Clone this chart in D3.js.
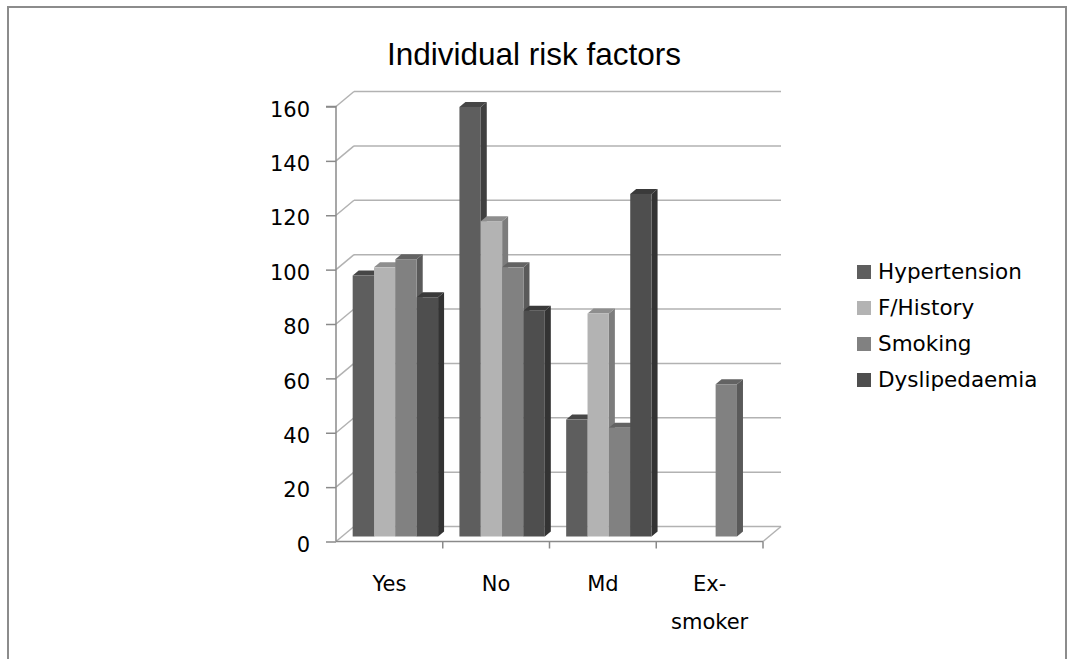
<!DOCTYPE html>
<html>
<head>
<meta charset="utf-8">
<script src="https://cdn.jsdelivr.net/npm/d3@7"></script>
<style>
  html, body { margin: 0; padding: 0; background: #fff; }
  svg { display: block; }
</style>
</head>
<body>
<svg id="chart" width="1069" height="659"></svg>
<script>
// Category and series data
const categories = ["Yes", "No", "Md", "Ex-smoker"];
const seriesNames = ["Hypertension", "F/History", "Smoking", "Dyslipedaemia"];
const hypertension = [96, 158, 43, null];
const fHistory = [99, 116, 82, null];
const smoking = [102, 99, 40, 56];
const dyslipedaemia = [88, 83, 126, null];
const yTicks = [0, 20, 40, 60, 80, 100, 120, 140, 160];

const seriesValues = [hypertension, fHistory, smoking, dyslipedaemia];

// Face shades per series: front, top, side
const frontColors = ["#5e5e5e", "#b3b3b3", "#818181", "#4e4e4e"];
const topColors = ["#464646", "#8e8e8e", "#636363", "#3a3a3a"];
const sideColors = ["#3f3f3f", "#7c7c7c", "#5a5a5a", "#333333"];

const svg = d3.select("#chart");

// Outer chart frame
svg.append("rect")
  .attr("x", 8).attr("y", 7)
  .attr("width", 1058).attr("height", 700)
  .attr("fill", "none")
  .attr("stroke", "#8c8c8c")
  .attr("stroke-width", 2);

// Title
svg.append("text")
  .attr("x", 534).attr("y", 65)
  .attr("text-anchor", "middle")
  .attr("font-family", "Liberation Sans, Arial, sans-serif")
  .attr("font-size", 31.5)
  .attr("fill", "#000")
  .text("Individual risk factors");

// Plot geometry: front plane scales plus oblique depth offsets
const x = d3.scaleBand(categories, [336, 763]).paddingInner(0).paddingOuter(0);
const y = d3.scaleLinear([0, 160], [541.5, 106.5]);
const wall = { dx: 18, dy: -15 };      // back wall offset
const barFront = { dx: 6, dy: -5 };    // front plane of the bars
const barDepth = { dx: 6, dy: -5 };    // thickness of each bar
const xs = d3.scaleBand(seriesNames, [0, x.bandwidth()]).paddingInner(0).paddingOuter(0.5);

const gridColor = "#b2b2b2";
const axisColor = "#8a8a8a";
const textFont = "DejaVu Sans, sans-serif";

// Side wall diagonals and back wall gridlines
const grid = svg.append("g");
yTicks.forEach(v => {
  const yv = y(v);
  grid.append("line")
    .attr("x1", x.range()[0]).attr("y1", yv)
    .attr("x2", x.range()[0] + wall.dx).attr("y2", yv + wall.dy)
    .attr("stroke", gridColor).attr("stroke-width", 1.5);
  grid.append("line")
    .attr("x1", x.range()[0] + wall.dx).attr("y1", yv + wall.dy)
    .attr("x2", x.range()[1] + wall.dx).attr("y2", yv + wall.dy)
    .attr("stroke", gridColor).attr("stroke-width", 1.5);
});
// Right edge of the floor
grid.append("line")
  .attr("x1", x.range()[1]).attr("y1", y(0))
  .attr("x2", x.range()[1] + wall.dx).attr("y2", y(0) + wall.dy)
  .attr("stroke", gridColor).attr("stroke-width", 1.5);

// Bars, painted left to right so each bar hides the neighbour's side face
const bars = svg.append("g");
const barList = [];
categories.forEach((c, ci) => {
  seriesNames.forEach((s, si) => {
    const v = seriesValues[si][ci];
    if (v == null) return;
    barList.push({ c, s, si, v });
  });
});

barList.forEach(b => {
  const x0 = x(b.c) + xs(b.s) + barFront.dx;
  const x1 = x0 + xs.bandwidth();
  const yb = y(0) + barFront.dy;
  const yt = y(b.v) + barFront.dy;
  const ddx = barDepth.dx, ddy = barDepth.dy;
  const g = bars.append("g");
  // right side face
  g.append("path")
    .attr("d", `M${x1},${yt} L${x1 + ddx},${yt + ddy} L${x1 + ddx},${yb + ddy} L${x1},${yb} Z`)
    .attr("fill", sideColors[b.si]);
  // top face
  g.append("path")
    .attr("d", `M${x0},${yt} L${x0 + ddx},${yt + ddy} L${x1 + ddx},${yt + ddy} L${x1},${yt} Z`)
    .attr("fill", topColors[b.si]);
  // front face
  g.append("rect")
    .attr("x", x0).attr("y", yt)
    .attr("width", xs.bandwidth()).attr("height", yb - yt)
    .attr("fill", frontColors[b.si]);
});

// Value axis
const yAxis = d3.axisLeft(y).tickValues(yTicks).tickSize(10).tickPadding(16);
const yg = svg.append("g")
  .attr("transform", `translate(${x.range()[0]},0)`)
  .call(yAxis);
yg.select(".domain").attr("stroke", axisColor).attr("stroke-width", 1.5)
  .attr("d", `M-10,${y(160)}H0V${y(0)}`);
yg.selectAll(".tick line").attr("stroke", axisColor).attr("stroke-width", 1.5);
yg.selectAll(".tick text")
  .attr("font-family", textFont)
  .attr("font-size", 21)
  .attr("fill", "#000")
  .attr("dy", "0.46em");

// Category axis
const xg = svg.append("g");
xg.append("line")
  .attr("x1", x.range()[0]).attr("y1", y(0))
  .attr("x2", x.range()[1]).attr("y2", y(0))
  .attr("stroke", axisColor).attr("stroke-width", 1.5);
const boundaries = categories.map(c => x(c) + x.bandwidth());
xg.selectAll(".xtick").data(boundaries).join("line")
  .attr("class", "xtick")
  .attr("x1", d => d).attr("x2", d => d)
  .attr("y1", y(0)).attr("y2", y(0) + 7)
  .attr("stroke", axisColor).attr("stroke-width", 1.5);

const labels = xg.selectAll(".xlabel").data(categories).join("text")
  .attr("class", "xlabel")
  .attr("x", c => x(c) + x.bandwidth() / 2)
  .attr("y", 591)
  .attr("text-anchor", "middle")
  .attr("font-family", textFont)
  .attr("font-size", 21)
  .attr("fill", "#000");
labels.each(function(c) {
  const parts = c.split(/(?<=-)/);
  const t = d3.select(this);
  parts.forEach((p, i) => {
    t.append("tspan")
      .attr("x", x(c) + x.bandwidth() / 2)
      .attr("dy", i === 0 ? 0 : 38)
      .text(p);
  });
});

// Legend
const legend = svg.append("g");
seriesNames.forEach((s, i) => {
  const top = 265 + i * 36;
  legend.append("rect")
    .attr("x", 857).attr("y", top)
    .attr("width", 14).attr("height", 14)
    .attr("fill", frontColors[i]);
  legend.append("text")
    .attr("x", 878).attr("y", top + 14)
    .attr("font-family", textFont)
    .attr("font-size", 21.5)
    .attr("fill", "#000")
    .text(s);
});
</script>
</body>
</html>
